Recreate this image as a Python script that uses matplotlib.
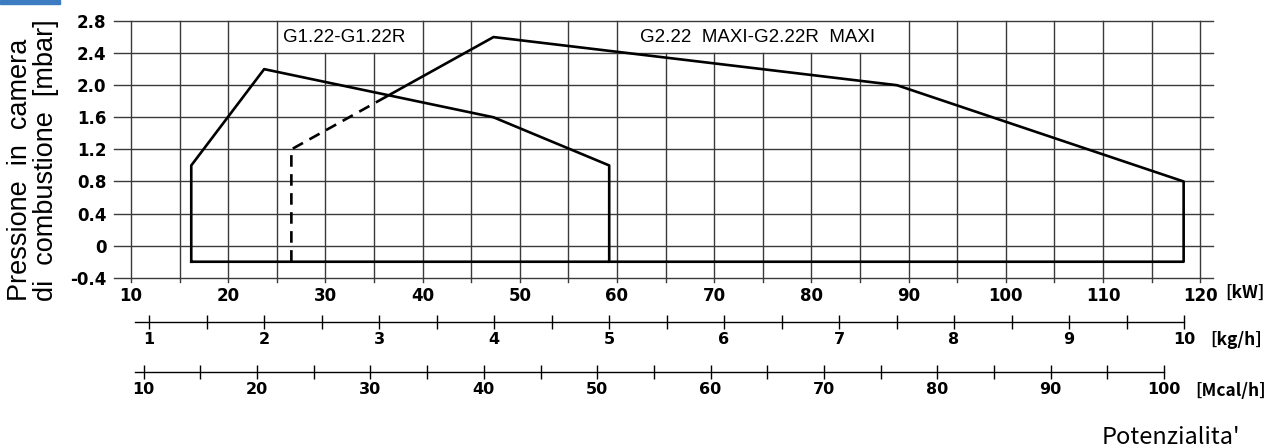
import matplotlib.pyplot as plt
from matplotlib.patches import Rectangle

# operating envelopes, kW vs mbar
g1_kw = [16.2, 16.2, 23.7, 47.3, 59.2, 59.2, 16.2]
g1_mbar = [-0.2, 1.0, 2.2, 1.6, 1.0, -0.2, -0.2]

g2_dash_kw = [26.5, 26.5, 36.3]
g2_dash_mbar = [-0.2, 1.2, 1.86]
g2_kw = [36.3, 47.3, 88.8, 118.3, 118.3, 59.2]
g2_mbar = [1.86, 2.6, 2.0, 0.8, -0.2, -0.2]

kw_ticks = list(range(10, 121, 10))
mbar_ticks = [-0.4, 0, 0.4, 0.8, 1.2, 1.6, 2.0, 2.4, 2.8]
mbar_labels = ['-0.4', '0', '0.4', '0.8', '1.2', '1.6', '2.0', '2.4', '2.8']
kgh_ticks = list(range(1, 11))
mcal_ticks = list(range(10, 101, 10))

W, H = 1281, 448

def box(x0, y0, x1, y1):
    # pixel box -> figure fraction [left, bottom, width, height]
    return [x0 / W, 1 - y1 / H, (x1 - x0) / W, (y1 - y0) / H]

fig = plt.figure(figsize=(W / 100, H / 100), dpi=100)
fig.patches.append(Rectangle((0, 1 - 4 / H), 60 / W, 4 / H, transform=fig.transFigure,
                             color='#3d7cc0', zorder=5))

ax = fig.add_axes(box(113.5, 21, 1212.8, 281.8))
ax.set_xlim(8.2, 121.3)
ax.set_ylim(-0.45, 2.8)
for s in ax.spines.values():
    s.set_visible(False)

# grid (label boxes keep the inner verticals off the top row)
gc = '#3a3a3a'
for y in mbar_ticks:
    ax.plot([8.2, 121.3], [y, y], color=gc, lw=1.0, clip_on=False, zorder=1)
for x in range(10, 121, 5):
    top = 2.4 if (25 < x < 40 or 60 < x < 90) else 2.8
    ax.plot([x, x], [-0.45, top], color=gc, lw=1.0, clip_on=False, zorder=1)

ax.plot(g1_kw, g1_mbar, color='black', lw=1.9, zorder=3, clip_on=False)
ax.plot(g2_kw, g2_mbar, color='black', lw=1.9, zorder=3, clip_on=False)
ax.plot(g2_dash_kw, g2_dash_mbar, color='black', lw=1.9, ls=(0, (4.4, 2.8)), zorder=3)

ax.text(31.9, 2.6, 'G1.22-G1.22R', ha='center', va='center', fontsize=13.5,
        family='Liberation Sans')
ax.text(74.45, 2.6, 'G2.22  MAXI-G2.22R  MAXI', ha='center', va='center', fontsize=13.5,
        family='Liberation Sans')

ax.set_xticks(kw_ticks)
ax.set_yticks(mbar_ticks)
ax.set_yticklabels(mbar_labels)
ax.tick_params(length=0, labelsize=12)
ax.tick_params(axis='x', pad=4)
ax.tick_params(axis='y', pad=5)
for lab in ax.get_xticklabels() + ax.get_yticklabels():
    lab.set_family('DejaVu Sans')
    lab.set_fontweight('bold')

# secondary scales
def scale_axis(rect, xlim, major, minor):
    a = fig.add_axes(rect)
    a.set_xlim(*xlim)
    a.set_ylim(-1, 1)
    for k in ['top', 'left', 'right']:
        a.spines[k].set_visible(False)
    a.spines['bottom'].set_position(('data', 0))
    a.spines['bottom'].set_linewidth(1.0)
    a.set_yticks([])
    a.set_xticks(major)
    a.set_xticks(minor, minor=True)
    a.tick_params(axis='x', which='both', direction='inout', length=10, width=1.0,
                  labelsize=11.5, pad=2.5)
    for lab in a.get_xticklabels():
        lab.set_family('DejaVu Sans')
        lab.set_fontweight('bold')
    a.patch.set_visible(False)
    return a

kg_minor = [v + 0.5 for v in kgh_ticks[:-1]]
scale_axis(box(135, 302, 1184, 342), (0.878, 10), kgh_ticks, kg_minor)
mc_minor = [v + 5 for v in mcal_ticks[:-1]]
scale_axis(box(135, 352, 1164, 392), (9.23, 100), mcal_ticks, mc_minor)

unit_font = ['Noto Sans CJK JP', 'DejaVu Sans']
fig.text(1225 / W, 1 - 293 / H, '[kW]', fontsize=12.5, family=unit_font, fontweight='bold',
         ha='left', va='center')
fig.text(1210 / W, 1 - 340 / H, '[kg/h]', fontsize=12.5, family=unit_font, fontweight='bold',
         ha='left', va='center')
fig.text(1195 / W, 1 - 391 / H, '[Mcal/h]', fontsize=12.5, family=unit_font, fontweight='bold',
         ha='left', va='center')
fig.text(1171 / W, 1 - 437 / H, "Potenzialita'", fontsize=17, family=unit_font,
         ha='center', va='center')

fig.text(20 / W, 1 - 301 / H, 'Pressione  in  camera', rotation=90, fontsize=19.5,
         family='Liberation Sans', ha='center', va='bottom')
fig.text(46 / W, 1 - 301 / H, 'di  combustione  [mbar]', rotation=90, fontsize=19.5,
         family='Liberation Sans', ha='center', va='bottom')

fig.savefig('out.png', dpi=100)
